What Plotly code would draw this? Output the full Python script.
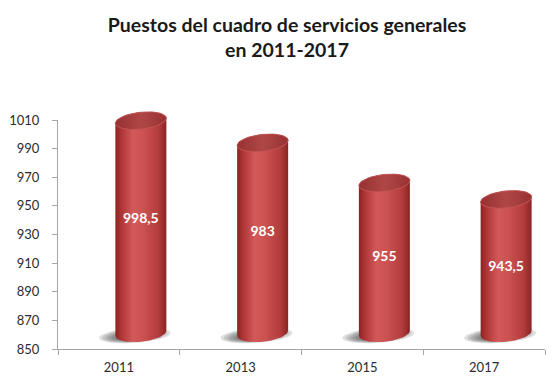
import numpy as np
import plotly.graph_objects as go

# Chart data
years = ["2011", "2013", "2015", "2017"]
puestos = [998.5, 983, 955, 943.5]
y_ticks = [850, 870, 890, 910, 930, 950, 970, 990, 1010]

Y_MIN, Y_MAX = 850, 1010

# Page and plot geometry (pixels)
W, H = 552, 385
M_L, M_R, M_T, M_B = 58, 7, 100, 36
plot_w = W - M_L - M_R
plot_h = H - M_T - M_B
axis_h = 229                      # height of the visible value axis
dom_top = axis_h / plot_h
px_x = plot_w / len(years)        # pixels per category
px_y = axis_h / (Y_MAX - Y_MIN)   # pixels per value unit

# 3D cylinder look, expressed in axis units
DX = 22 / px_x        # perspective shift to the right
DY = 11               # perspective shift upward (value units)
RA = 25.5 / px_x      # cylinder radius (horizontal)
RB = 8.5 / px_y       # ellipse half-height
SH = 2.5 / px_y       # ellipse tilt (right side higher)

body_scale = [[0.0, "#8c2323"], [0.12, "#b03636"], [0.35, "#d35a5a"],
              [0.55, "#cc5151"], [0.85, "#b23b3b"], [1.0, "#8a2424"]]
top_scale = [[0.0, "#963131"], [0.5, "#b04747"], [1.0, "#973232"]]


def ellipse(cx, cy, a, b, s, t0, t1, n=60):
    t = np.linspace(t0, t1, n)
    return cx + a * np.cos(t), cy + b * np.sin(t) + s * np.cos(t)


fig = go.Figure()

# empty trace so the visible axes own a subplot
fig.add_trace(go.Scatter(x=[], y=[], xaxis="x", yaxis="y", showlegend=False))

for i, v in enumerate(puestos):
    cx = i + DX
    yb = Y_MIN + DY
    yt = v + DY

    # soft floor shadow (stacked translucent ellipses)
    for k in range(6):
        f = 1.0 - k * 0.09
        sx, sy = ellipse(cx - 6 / px_x, yb - 1.5, 36 / px_x * f, 7.5 / px_y * f, SH, 0, 2 * np.pi)
        fig.add_trace(go.Scatter(x=sx, y=sy, mode="lines", fill="toself",
                                 fillcolor="rgba(60,60,60,0.16)", line=dict(width=0),
                                 xaxis="x2", yaxis="y2", hoverinfo="skip", showlegend=False))

    # cylinder body
    bx, by = ellipse(cx, yb, RA, RB, SH, np.pi, 2 * np.pi)
    tx, ty = ellipse(cx, yt, RA, RB, SH, 0, np.pi)
    fig.add_trace(go.Scatter(
        x=np.concatenate([bx, tx]), y=np.concatenate([by, ty]),
        mode="lines", fill="toself", line=dict(width=0),
        fillgradient=dict(type="horizontal", colorscale=body_scale, start=cx - RA, stop=cx + RA),
        xaxis="x2", yaxis="y2", hoverinfo="skip", showlegend=False))

    # cylinder top
    ex, ey = ellipse(cx, yt, RA, RB, SH, 0, 2 * np.pi)
    fig.add_trace(go.Scatter(
        x=ex, y=ey, mode="lines", fill="toself", line=dict(width=1, color="#c25454"),
        fillgradient=dict(type="horizontal", colorscale=top_scale, start=cx - RA, stop=cx + RA),
        xaxis="x2", yaxis="y2", hoverinfo="skip", showlegend=False))

# value labels inside the cylinders
fig.add_trace(go.Scatter(
    x=[i + DX for i in range(len(puestos))],
    y=[Y_MIN + 0.61 * (v - Y_MIN) for v in puestos],
    text=[f"{v:g}".replace(".", ",") for v in puestos],
    mode="text", textfont=dict(family="Lato", size=14, color="white", weight=700),
    xaxis="x2", yaxis="y2", hoverinfo="skip", showlegend=False))

axis_col = "#a6a6a6"
tick_font = dict(family="Lato", size=13, color="#2b2b2b")

fig.update_layout(
    width=W, height=H, autosize=False,
    margin=dict(l=M_L, r=M_R, t=M_T, b=M_B),
    paper_bgcolor="white", plot_bgcolor="rgba(0,0,0,0)",
    title=dict(text="Puestos del cuadro de servicios generales<br>en 2011-2017",
               x=287 / W, xanchor="center", y=1 - 32 / H, yanchor="top",
               font=dict(family="Lato", size=19.5, color="#1a1a1a", weight=700)),
    xaxis=dict(domain=[0, 1], range=[-0.5, len(years) - 0.5],
               tickmode="array", tickvals=list(range(len(years))), ticktext=years,
               ticks="outside", ticklen=6, tickcolor="rgba(0,0,0,0)",
               minor=dict(tickmode="array", tickvals=[i - 0.5 for i in range(len(years) + 1)],
                          ticks="outside", ticklen=5, tickcolor=axis_col),
               showline=True, linecolor=axis_col, linewidth=1,
               showgrid=False, zeroline=False, tickfont=tick_font, anchor="y"),
    yaxis=dict(domain=[0, dom_top], range=[Y_MIN, Y_MAX],
               tickmode="array", tickvals=y_ticks,
               ticks="outside", ticklen=5, tickcolor=axis_col,
               ticklabelstandoff=10,
               showline=True, linecolor=axis_col, linewidth=1,
               showgrid=False, zeroline=False, tickfont=tick_font, anchor="x"),
    xaxis2=dict(domain=[0, 1], range=[-0.5, len(years) - 0.5], visible=False, anchor="y2"),
    yaxis2=dict(domain=[0, 1], range=[Y_MIN, Y_MIN + (Y_MAX - Y_MIN) / dom_top],
                visible=False, anchor="x2"),
    showlegend=False,
)

fig.write_html("out.html")
